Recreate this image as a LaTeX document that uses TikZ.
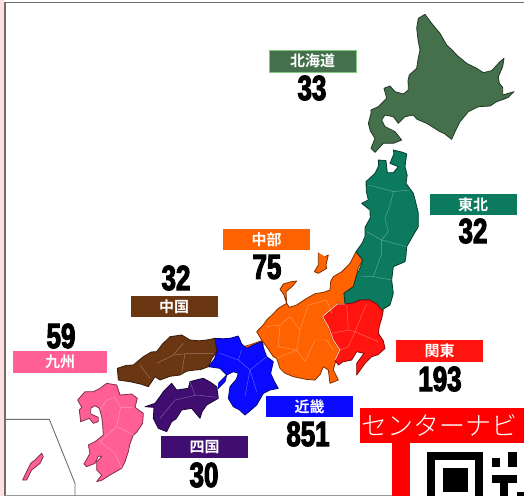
\documentclass[tikz,border=0pt]{standalone}
\usepackage{fontspec}
\usetikzlibrary{decorations.pathmorphing}
\newfontfamily\lblfont{Noto Sans CJK JP Bold}
\newfontfamily\banfont{Noto Sans CJK JP Light}
\newfontfamily\numfont[FakeStretch=0.74,FakeBold=3]{Liberation Sans Bold}
\definecolor{hok}{HTML}{44704C}
\definecolor{toh}{HTML}{0B7A5E}
\definecolor{chb}{HTML}{FF6200}
\definecolor{kan}{HTML}{FF1410}
\definecolor{kin}{HTML}{0A0AFF}
\definecolor{chg}{HTML}{6B3612}
\definecolor{shi}{HTML}{3F0E70}
\definecolor{kyu}{HTML}{FF5F94}
\definecolor{frame}{HTML}{6E6E6E}
\pgfmathsetseed{7}
\tikzset{
  land/.style={draw=#1!50!black,line width=.8pt,line join=round,fill=#1,decorate,decoration={random steps,segment length=9pt,amplitude=1.7pt}},
  seam/.style={draw=#1!65!white,line width=.45pt,line join=round},
  lbl/.style={fill=#1,minimum width=87pt,minimum height=21.5pt,inner sep=0pt,text=white,font=\lblfont\fontsize{15}{15}\selectfont},
  num/.style={inner sep=0pt,text=black,font=\numfont\fontsize{35}{35}\selectfont},
  z1/.style={shift={(340,0)},scale=1/3},
  z2/.style={shift={(250,150)},scale=1/3},
  z3/.style={shift={(0,320)},scale=1/3}
}
\begin{document}
\begin{tikzpicture}[x=1pt,y=-1pt]
\useasboundingbox (0,0) rectangle (524,496);
\fill[white] (0,0) rectangle (524,496);
\fill[red!12] (0,0) rectangle (4,496);
\draw[frame,line width=1.8pt] (5,496) -- (5,2.5) -- (524,2.5);
\draw[frame!70,line width=.8pt] (5,495.5) -- (392,495.5);
% Hokkaido
\begin{scope}[z1]
\path[land=hok] (235,55)--(255,43)--(275,70)--(300,100)--(320,135)--(350,165)--(380,190)--(410,205)--(430,218)--(455,212)--(480,185)--(492,175)--(488,200)--(475,230)--(478,250)--(488,262)--(488,285)--(522,275)--(505,292)--(490,298)--(470,305)--(450,318)--(415,320)--(385,335)--(360,365)--(345,395)--(335,418)--(300,395)--(260,370)--(220,345)--(195,350)--(175,370)--(160,350)--(135,345)--(125,360)--(135,380)--(165,395)--(185,420)--(160,430)--(130,430)--(105,457)--(93,445)--(105,415)--(85,370)--(93,330)--(115,320)--(140,295)--(132,265)--(150,258)--(165,275)--(190,282)--(205,270)--(208,225)--(230,205)--(240,150)--(230,85)--cycle;
\end{scope}
% Honshu east
\begin{scope}[z2]
\path[land=chb] (318,305)--(338,330)--(320,375)--(310,410)--(282,430)--(285,462)--(262,462)--(218,500)--(235,530)--(250,570)--(270,600)--(255,640)--(250,660)--(265,690)--(240,700)--(235,660)--(220,650)--(195,690)--(130,680)--(90,655)--(80,625)--(70,620)--(50,590)--(35,570)--(20,545)--(50,510)--(85,475)--(110,460)--(90,418)--(100,402)--(140,393)--(128,408)--(108,425)--(110,460)--(118,472)--(140,465)--(170,445)--(240,420)--(250,380)--(300,340)--cycle;
\path[land=chb] (225,320)--(235,315)--(228,345)--(230,355)--(205,370)--(193,365)--(205,345)--(205,330)--cycle;
\path[land=toh] (385,30)--(408,32)--(412,68)--(430,68)--(445,50)--(420,40)--(430,0)--(470,12)--(465,50)--(468,100)--(490,130)--(505,190)--(505,230)--(490,255)--(470,290)--(465,335)--(430,350)--(425,390)--(430,430)--(420,465)--(395,480)--(375,470)--(360,450)--(330,450)--(285,462)--(282,430)--(310,410)--(320,375)--(338,330)--(318,305)--(345,260)--(360,180)--(335,160)--(355,150)--(348,95)--(375,70)--cycle;
\path[land=kan] (285,462)--(330,450)--(360,450)--(395,480)--(400,480)--(385,550)--(405,595)--(365,620)--(345,640)--(320,675)--(320,640)--(342,610)--(320,605)--(305,630)--(265,645)--(255,630)--(270,600)--(250,570)--(235,530)--(218,500)--(262,462)--cycle;
% prefecture seams
\draw[seam=toh] (355,105)--(395,115)--(430,125)--(480,120);
\draw[seam=toh] (430,125)--(420,165)--(405,205)--(415,245)--(395,270)--(350,245);
\draw[seam=toh] (395,270)--(470,290);
\draw[seam=toh] (395,270)--(395,310)--(370,380)--(330,378);
\draw[seam=toh] (370,380)--(425,390);
\draw[seam=kan] (290,465)--(295,540)--(245,550);
\draw[seam=kan] (295,540)--(315,545)--(350,460);
\draw[seam=kan] (315,545)--(385,575);
\draw[seam=kan] (315,545)--(295,590)--(270,600);
\draw[seam=chb] (230,450)--(175,465)--(150,540)--(120,500)--(90,525)--(50,530);
\draw[seam=chb] (150,540)--(140,600)--(80,625);
\draw[seam=chb] (90,525)--(85,590)--(140,600);
\draw[seam=chb] (140,600)--(165,635)--(195,570)--(230,570)--(250,600);
\draw[seam=chb] (230,450)--(245,490);
\draw[white!70!chb,line width=.8pt] (285,462)--(262,462)--(218,500)--(235,530)--(250,570)--(270,600)--(255,630);
\end{scope}
% West Japan
\begin{scope}[z3]
\path[land=chb] (730,80)--(785,62)--(790,75)--(750,92)--cycle;
\path[land=kin] (645,55)--(690,55)--(715,48)--(725,72)--(740,85)--(785,65)--(800,110)--(820,125)--(812,160)--(835,205)--(790,220)--(770,255)--(735,285)--(700,260)--(685,235)--(690,200)--(715,160)--(700,155)--(680,165)--(660,145)--(625,140)--(650,95)--cycle;
\path[land=kin] (655,190)--(680,165)--(675,185)--(660,200)--cycle;
\path[land=chg] (352,145)--(400,135)--(430,110)--(470,95)--(510,50)--(545,45)--(570,60)--(645,55)--(650,95)--(625,140)--(585,150)--(540,165)--(480,180)--(465,170)--(445,200)--(390,185)--(355,180)--cycle;
\path[land=shi] (435,260)--(465,250)--(490,215)--(515,190)--(530,210)--(565,205)--(570,185)--(610,175)--(650,200)--(655,235)--(620,255)--(600,295)--(575,265)--(545,270)--(515,305)--(500,335)--(475,325)--(460,295)--(462,262)--cycle;
\path[land=kyu] (320,190)--(350,195)--(360,225)--(395,222)--(412,235)--(405,262)--(430,280)--(428,310)--(400,345)--(385,395)--(365,445)--(330,465)--(290,485)--(305,465)--(290,450)--(290,425)--(305,410)--(295,408)--(285,430)--(260,440)--(252,432)--(270,400)--(265,375)--(285,365)--(310,345)--(308,315)--(305,290)--(298,265)--(285,257)--(272,265)--(272,282)--(295,292)--(295,305)--(280,310)--(268,295)--(255,300)--(242,305)--(238,270)--(245,262)--(233,240)--(255,215)--(280,215)--(300,205)--cycle;
\path[land=kyu] (68,480)--(75,465)--(92,430)--(105,420)--(125,400)--(130,410)--(120,430)--(95,450)--(80,480)--cycle;
\draw[frame,line width=.9pt,line join=round] (15,298)--(148,298)--(225,490)--(225,528);
\draw[seam=kin] (725,90)--(715,120)--(750,150)--(735,230);
\draw[seam=kin] (750,150)--(800,110);
\draw[seam=kin] (750,150)--(770,215);
\draw[seam=kin] (660,100)--(715,120);
\draw[seam=chg] (420,135)--(450,175);
\draw[seam=chg] (470,130)--(520,105)--(570,100)--(640,100);
\draw[seam=chg] (520,105)--(550,70);
\draw[seam=chg] (555,100)--(545,160);
\draw[seam=shi] (480,295)--(525,240)--(590,225)--(650,232);
\draw[seam=shi] (570,185)--(585,225);
\draw[seam=kyu] (320,240)--(345,232)--(362,262)--(400,262);
\draw[seam=kyu] (362,262)--(350,320)--(400,345);
\draw[seam=kyu] (350,320)--(300,365)--(345,400)--(365,445);
\draw[seam=kyu] (320,240)--(300,270);
\end{scope}
% region labels
\node[lbl=hok,draw={hok!60!green!60!white},line width=.5pt] (hokl) at (312.5,61) {北海道};
\node[lbl=toh] (tohl) at (473,204.5) {東北};
\node[lbl=chb] (chbl) at (266.5,239.5) {中部};
\node[lbl=chg] (chgl) at (174,306.5) {中国};
\node[lbl=kyu,minimum width=94pt] (kyul) at (60,362) {九州};
\node[lbl=kan] (kanl) at (439.5,351) {関東};
\node[lbl=kin] (kinl) at (309.5,406.5) {近畿};
\node[lbl=shi] (shil) at (204.5,447) {四国};
% numbers
\node[num] (hokn) at (312,88) {33};
\node[num] (tohn) at (473,231) {32};
\node[num] (chbn) at (267,267) {75};
\node[num] (chgn) at (176,278) {32};
\node[num] (kyun) at (61,336) {59};
\node[num] (kann) at (440,379) {193};
\node[num] (kinn) at (308,434) {851};
\node[num] (shin) at (204,475) {30};
% banner with QR
\fill[red] (392,443) rectangle (410,496);
\fill[black] (427,452) rectangle (483,496);
\fill[white] (435,460) rectangle (475,496);
\fill[black] (443,468) rectangle (468,492);
\fill[black] (492,458) rectangle (500,467);
\fill[black] (508,452) rectangle (517,467);
\fill[black] (492,475) rectangle (517,483);
\fill[black] (500,483) rectangle (508,496);
\fill[black] (517,492) rectangle (524,496);
\fill[red] (360,408) rectangle (524,443);
\node[anchor=west,inner sep=0pt,text=white,font=\banfont\fontsize{26}{26}\selectfont] (ban) at (361,425.5) {センターナビ};
\end{tikzpicture}
\end{document}
